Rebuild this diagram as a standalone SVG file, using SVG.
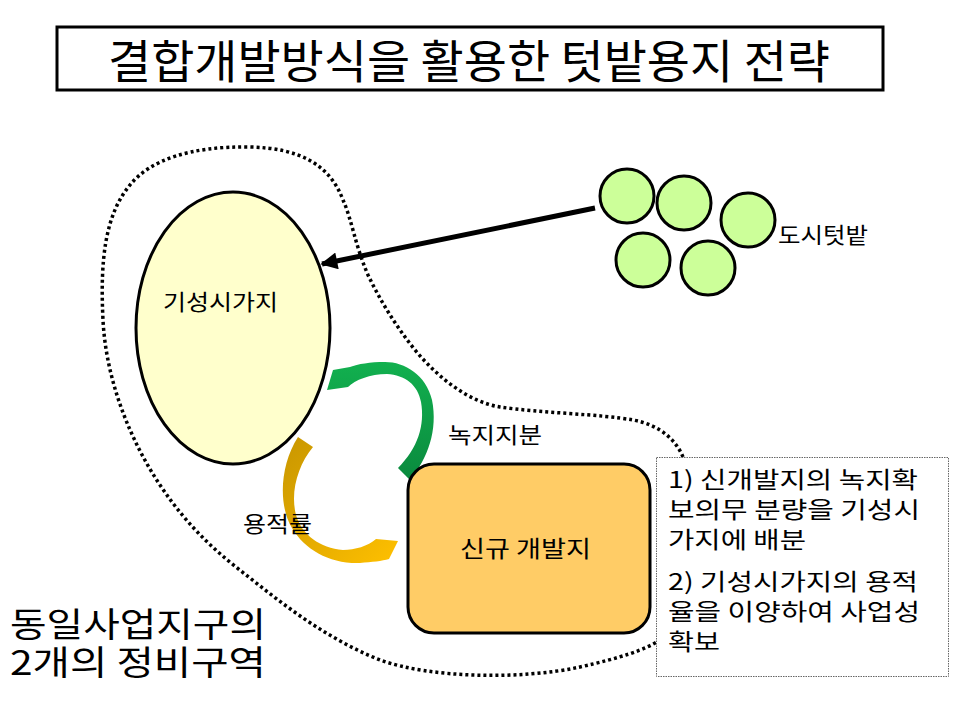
<svg xmlns="http://www.w3.org/2000/svg" width="960" height="720" viewBox="0 0 960 720">
<style>
text{font-family:"Noto Sans CJK KR","Noto Sans",sans-serif;fill:#000}
.lbl{font-size:22px}
.note{font-size:23px}
.big{font-size:34px}
.blob{fill:#CCFF99;stroke:#000;stroke-width:3}
</style>
<defs>
<linearGradient id="gGreen" x1="0" y1="0" x2="0" y2="1">
<stop offset="0" stop-color="#12B04F"/>
<stop offset="1" stop-color="#0A8A3E"/>
</linearGradient>
<linearGradient id="gGold" x1="0" y1="0" x2="1" y2="1">
<stop offset="0" stop-color="#C89600"/>
<stop offset="1" stop-color="#FFC000"/>
</linearGradient>
<marker id="ah" viewBox="0 0 10 10" refX="9" refY="5" markerWidth="4.4" markerHeight="3.4" orient="auto" markerUnits="strokeWidth">
<path d="M0,0 L10,5 L0,10 Z" fill="#000"/>
</marker>
</defs>
<rect width="960" height="720" fill="#fff"/>

<g id="title">
<rect x="57" y="27" width="826" height="63" fill="#fff" stroke="#000" stroke-width="3"/>
<text x="108" y="78" font-size="46" textLength="722" lengthAdjust="spacingAndGlyphs">결합개발방식을 활용한 텃밭용지 전략</text>
</g>

<g id="district">
<path d="M683,457 C676,440 660,425 633,420 C600,414 540,413 500,407 C470,402 440,380 415,350 C395,325 380,300 368,275 C355,245 352,220 343,200 C330,165 300,148 250,147 C190,146 150,160 130,185 C105,215 100,260 103,320 C106,380 130,440 160,485 C190,530 220,555 250,578 C290,610 330,640 380,660 C430,678 520,680 580,667 C620,658 645,650 660,640 L700,560 Z" fill="none" stroke="#000" stroke-width="3.5" stroke-dasharray="3 3"/>
<text class="big" x="10" y="637" textLength="256" lengthAdjust="spacingAndGlyphs">동일사업지구의</text>
<text class="big" x="10" y="675" textLength="256" lengthAdjust="spacingAndGlyphs">2개의 정비구역</text>
</g>

<g id="existing">
<ellipse cx="233" cy="328" rx="97" ry="136" fill="#FFFFCC" stroke="#000" stroke-width="3"/>
<text class="lbl" x="163" y="310" textLength="115" lengthAdjust="spacingAndGlyphs">기성시가지</text>
</g>

<g id="gardens">
<circle class="blob" cx="627" cy="196" r="27"/>
<circle class="blob" cx="684" cy="203" r="27"/>
<circle class="blob" cx="748" cy="220" r="27"/>
<circle class="blob" cx="643" cy="260" r="27"/>
<circle class="blob" cx="708" cy="268" r="27"/>
<text class="lbl" x="778" y="243" textLength="90" lengthAdjust="spacingAndGlyphs">도시텃밭</text>
</g>

<g id="connectors">
<line x1="595" y1="208" x2="322" y2="264" stroke="#000" stroke-width="5" marker-end="url(#ah)"/>
<path d="M398,468 L410,480 C428,458 438,430 432,400 C426,375 405,362 385,362 C370,362 358,364 350,367 L333,370 L327,390 L348,387 C355,380 370,374 387,374 C405,375 418,385 421,402 C425,425 418,448 398,468 Z" fill="url(#gGreen)"/>
<path d="M298,437 C280,465 278,505 292,528 C305,550 330,564 360,563 C372,562 382,561 389,559 L398,541 L376,539 C368,546 355,550 343,550 C320,548 302,535 296,515 C290,492 298,465 313,447 Z" fill="url(#gGold)"/>
<text class="lbl" x="448" y="443" textLength="94" lengthAdjust="spacingAndGlyphs">녹지지분</text>
<text class="lbl" x="243" y="532" textLength="69" lengthAdjust="spacingAndGlyphs">용적률</text>
</g>

<g id="newdev">
<rect x="408" y="464" width="242" height="169" rx="26" ry="26" fill="#FFCC66" stroke="#000" stroke-width="3"/>
<text x="460" y="557" font-size="23" textLength="131" lengthAdjust="spacingAndGlyphs">신규 개발지</text>
</g>

<g id="note">
<rect x="656.5" y="457.5" width="292" height="219" fill="#fff" stroke="#666" stroke-width="1" stroke-dasharray="1.5 1"/>
<text class="note" x="668" y="488" textLength="250" lengthAdjust="spacingAndGlyphs">1) 신개발지의 녹지확</text>
<text class="note" x="668" y="518" textLength="252" lengthAdjust="spacingAndGlyphs">보의무 분량을 기성시</text>
<text class="note" x="668" y="548" textLength="138" lengthAdjust="spacingAndGlyphs">가지에 배분</text>
<text class="note" x="668" y="590" textLength="250" lengthAdjust="spacingAndGlyphs">2) 기성시가지의 용적</text>
<text class="note" x="668" y="620" textLength="252" lengthAdjust="spacingAndGlyphs">율을 이양하여 사업성</text>
<text class="note" x="668" y="650" textLength="52" lengthAdjust="spacingAndGlyphs">확보</text>
</g>
</svg>
